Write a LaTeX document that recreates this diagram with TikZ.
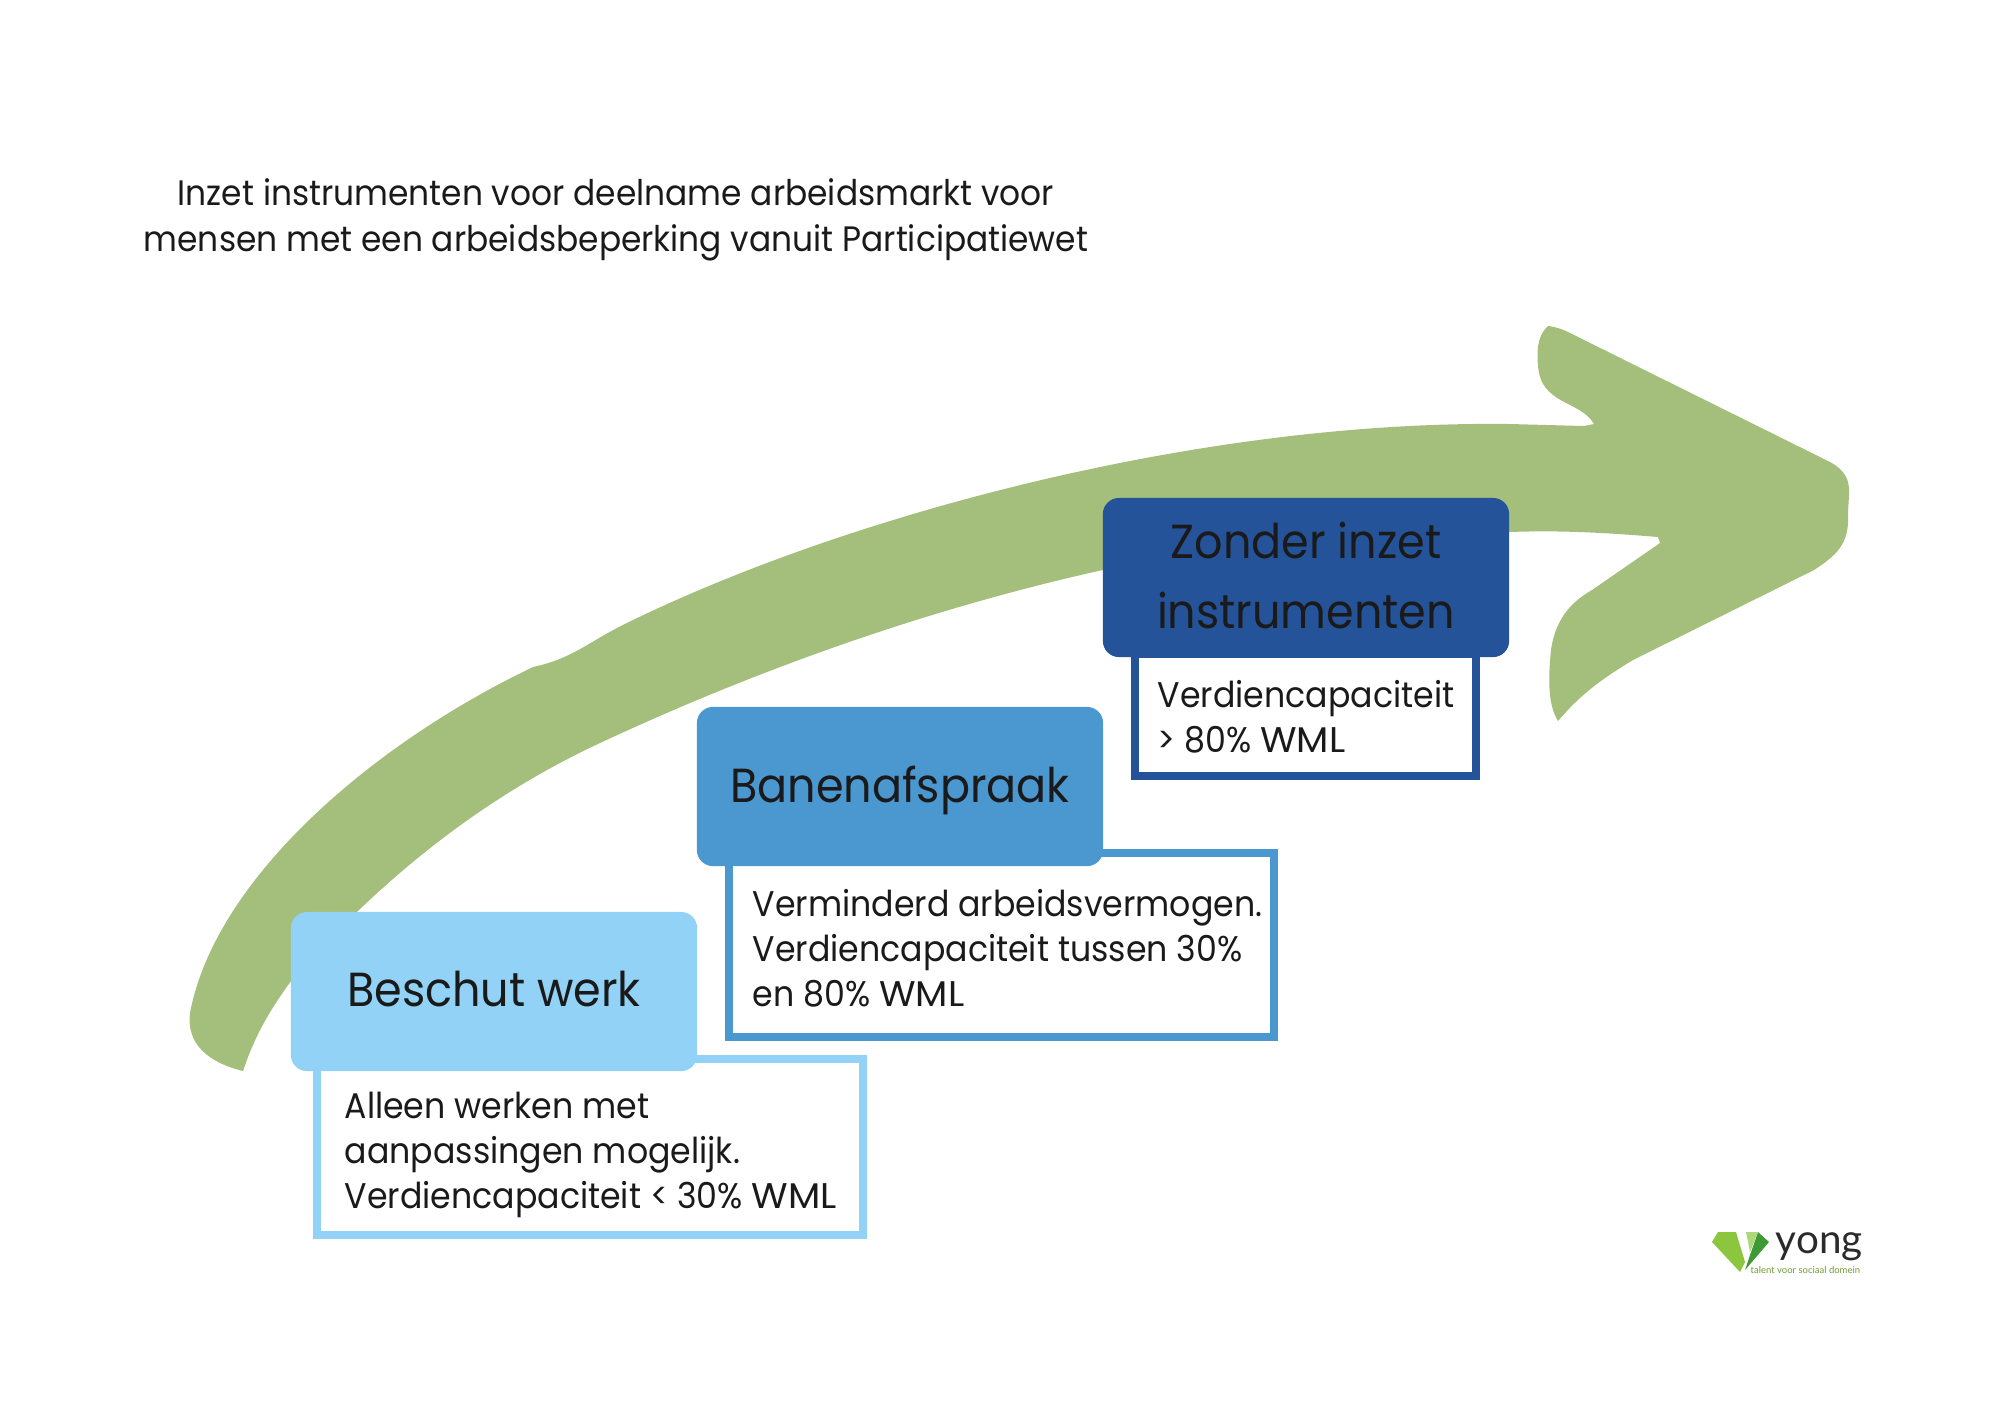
\documentclass[tikz,border=0pt]{standalone}
\usepackage{fontspec}
\setmainfont[FakeStretch=0.93]{Poppins}
\newfontface\widefont[FakeStretch=1.05]{Poppins}
\newfontfamily\logofont{Lato}
\newcommand{\wml}{{\widefont WML}}
\definecolor{arrowgreen}{HTML}{A4BE7B}
\definecolor{lightblue}{HTML}{92D2F6}
\definecolor{midblue}{HTML}{4B97D0}
\definecolor{darkblue}{HTML}{24539A}
\definecolor{ink}{HTML}{1A1A1A}
\definecolor{logodark}{HTML}{3E9A35}
\definecolor{logolight}{HTML}{8CC63F}
\definecolor{logogrey}{HTML}{2B2B2B}
\tikzset{
  headbox/.style={rectangle,rounded corners=0.16cm,inner sep=0pt,text=ink,align=center,minimum width=4.06cm,minimum height=1.59cm,font=\fontsize{13.6}{19.9}\selectfont},
  framebox/.style={rectangle,draw,fill=white,line width=2.3pt,inner sep=0pt,anchor=north west},
  bodytext/.style={anchor=north west,inner sep=0pt,text=ink,align=left,font=\fontsize{10.15}{12.8}\selectfont},
  titletext/.style={inner sep=0pt,text=ink,align=center,font=\fontsize{10.05}{13.1}\selectfont}
}
\begin{document}
\begin{tikzpicture}[x=0.01cm,y=-0.01cm]
\useasboundingbox (0,0) rectangle (2000,1414);
% arrow
\fill[arrowgreen]
  (243,1071) .. controls (210,1063) and (186,1045) .. (190,1013)
  .. controls (215,880) and (370,745) .. (533,667)
  .. controls (575,658) and (590,640) .. (633,620)
  .. controls (850,515) and (1200,420) .. (1510,424)
  -- (1584,426) -- (1594,424)
  .. controls (1580,400) and (1540,405) .. (1538,365)
  .. controls (1536,345) and (1540,333) .. (1548,326)
  .. controls (1556,327) and (1562,329) .. (1568,332)
  -- (1830,462)
  .. controls (1845,470) and (1850,480) .. (1849,495)
  -- (1848,513)
  .. controls (1850,545) and (1835,556) .. (1814,570)
  -- (1633,660)
  .. controls (1600,680) and (1580,695) .. (1558,721)
  .. controls (1548,705) and (1548,680) .. (1551,650)
  .. controls (1556,615) and (1575,600) .. (1592,590)
  -- (1660,543) -- (1658,537)
  .. controls (1610,533) and (1560,530) .. (1511,532)
  .. controls (1300,515) and (960,575) .. (600,743)
  .. controls (480,799) and (380,880) .. (291,981)
  .. controls (270,1010) and (255,1035) .. (243,1071) -- cycle;
% bodies
\node[framebox,draw=lightblue,minimum width=5.46cm,minimum height=1.76cm] (beschutframe) at (313,1055) {};
\node[framebox,draw=midblue,minimum width=5.45cm,minimum height=1.84cm] (banenframe) at (725,849) {};
\node[framebox,draw=darkblue,minimum width=3.41cm,minimum height=1.22cm] (zonderframe) at (1131,650) {};
% heads
\node[headbox,fill=lightblue,text height=10pt,text depth=1.75pt] (beschuthead) at (494,991.5) {Beschut werk};
\node[headbox,fill=midblue,text height=10pt,text depth=1pt] (banenhead) at (900,786.5) {Banenafspraak};
\node[headbox,fill=darkblue] (zonderhead) at (1306,577.5) {Zonder inzet\\instrumenten\rule[-1pt]{0pt}{1pt}};
% texts
\node[bodytext] (beschuttext) at (344,1091) {Alleen werken met\\aanpassingen mogelijk.\\Verdiencapaciteit < 30\% \wml};
\node[bodytext] (banentext) at (752,889) {Verminderd arbeidsvermogen.\\Verdiencapaciteit tussen 30\%\\en 80\% \wml};
\node[bodytext] (zondertext) at (1157,680) {Verdiencapaciteit\\> 80\% \wml};
\node[titletext] (titel) at (616,219.5) {Inzet instrumenten voor deelname arbeidsmarkt voor\\mensen met een arbeidsbeperking vanuit Participatiewet};
% logo
\fill[logolight] (1718,1232) -- (1736,1232) -- (1745,1262) -- (1740,1272) -- (1712,1242) -- cycle;
\fill[logodark] (1749,1258) -- (1758,1232) -- (1769,1242) -- (1745,1270) -- cycle;
\fill[logolight!70!white] (1746,1232) -- (1758,1232) -- (1750,1252) -- cycle;
\node[anchor=base west,inner sep=0pt,text=logogrey,font=\logofont\fontsize{11.5}{12}\selectfont] (yong) at (1775,1253) {yong};
\node[anchor=base west,inner sep=0pt,text=logolight!80!black,font=\logofont\fontsize{2.7}{4}\selectfont] (slogan) at (1750,1273) {talent voor sociaal domein};
\end{tikzpicture}
\end{document}
